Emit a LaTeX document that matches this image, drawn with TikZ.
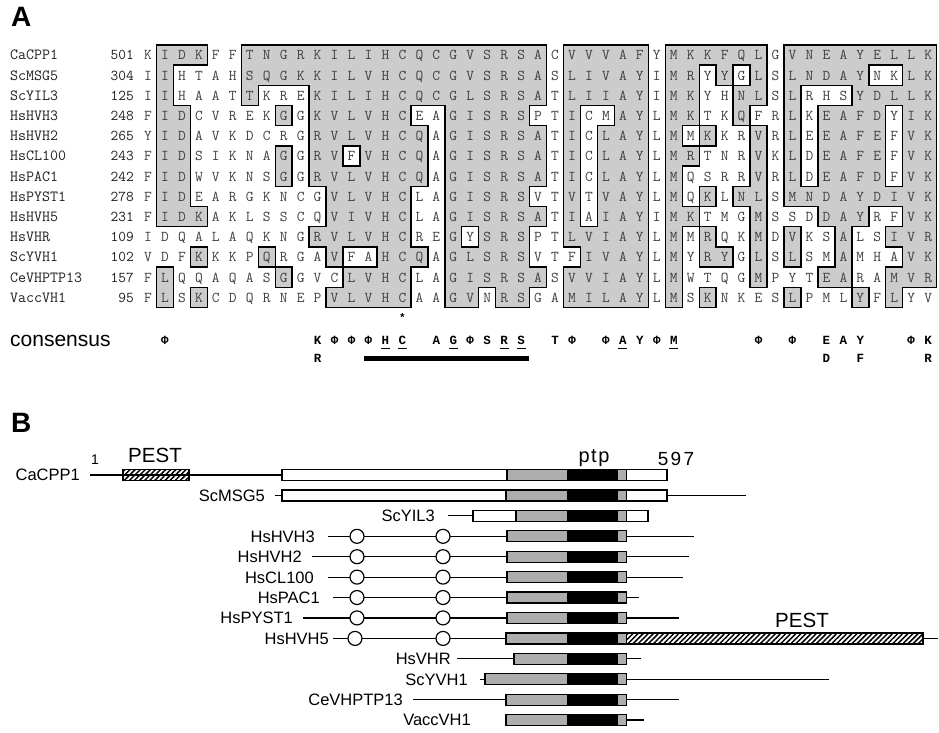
\documentclass[tikz,border=0pt]{standalone}
\usepackage{fontspec}
\setmainfont{Liberation Sans}
\newfontfamily\cmono{Liberation Mono}
\usetikzlibrary{patterns.meta}
\definecolor{shA}{gray}{0.80}
\definecolor{shB}{gray}{0.68}
\definecolor{resc}{gray}{0.25}
\definecolor{namec}{gray}{0.12}

\newcount\seqc
\def\parseshade#1#2{\global\seqc=0 \def\seqrow{#1}\parseshadei#2\relax}
\def\parseshadei#1{\ifx#1\relax\else\global\advance\seqc by 1 \expandafter\xdef\csname S-\seqrow-\the\seqc\endcsname{#1}\expandafter\parseshadei\fi}
\def\placeseq#1#2{\global\seqc=0 \def\seqrow{#1}\placeseqi#2\relax}
\def\placeseqi#1{\ifx#1\relax\else\global\advance\seqc by 1 \node[res,name/.expanded={r\seqrow c\the\seqc}] at ({131.04+\the\seqc*16.96},{39.6+\seqrow*20.2}) {#1};\expandafter\placeseqi\fi}

\newcommand\ptpbox[3]{%
 \fill[shB] (#2,{#1-5.5}) rectangle (567,{#1+5.5});
 \fill[black] (567,{#1-5.5}) rectangle (617,{#1+5.5});
 \fill[shB] (617,{#1-5.5}) rectangle (#3,{#1+5.5});
 \draw[bl] (617,{#1-5.5}) -- (617,{#1+5.5});
 \draw[bl] (#2,{#1-5.5}) rectangle (#3,{#1+5.5});}

\begin{document}
\begin{tikzpicture}[x=1pt,y=-1pt,
  res/.style={font=\ttfamily\fontsize{15}{15}\selectfont, text=resc, anchor=base, inner sep=0pt},
  aname/.style={font=\ttfamily\fontsize{15.5}{15.5}\selectfont, text=namec, anchor=base west, inner sep=0pt},
  anum/.style={font=\ttfamily\fontsize{15}{15}\selectfont, text=namec, anchor=base east, inner sep=0pt},
  cons/.style={font=\cmono\bfseries\fontsize{12.5}{12.5}\selectfont, anchor=base, inner sep=0pt},
  brd/.style={line width=1.4pt, line cap=rect},
  bl/.style={line width=1.2pt},
  blab/.style={font=\fontsize{16.5}{16.5}\selectfont, anchor=base east, inner sep=0pt},
  dot/.style={circle, draw, fill=white, line width=1.2pt, minimum size=14pt, inner sep=0pt},
  hatch/.style={draw, line width=1.2pt, pattern={Lines[angle=45,distance=3.6pt,line width=1.5pt]}},
  panel/.style={font=\bfseries\fontsize{28}{28}\selectfont, anchor=base west, inner sep=0pt},
  big/.style={font=\fontsize{20.5}{20.5}\selectfont, inner sep=0pt}
]
\useasboundingbox (0,0) rectangle (939,732);
\fill[white] (0,0) rectangle (939,732);

\node[panel, name=pA] at (11,26) {A};
\node[panel, name=pB] at (11,432) {B};

% ---------- shading grid ----------
\foreach \ii in {0,...,14}{\foreach \jj in {0,...,48}{\expandafter\xdef\csname S-\ii-\jj\endcsname{0}}}
\parseshade{1}{0111001111 111111111111110 11111 01111110 111111111}
\parseshade{2}{0100001111 111111111111110 11111 01101010 111110011}
\parseshade{3}{0100001000 111111111111110 11111 01100110 100011111}
\parseshade{4}{0110000010 111111001111100 10011 01100100 101111011}
\parseshade{5}{0110000000 111111101111110 10111 01010010 101111011}
\parseshade{6}{0110000010 110111101111110 10111 01100010 101111011}
\parseshade{7}{0110000010 111111101111110 10111 01000010 101111011}
\parseshade{8}{0110000000 011111001111100 10111 01010110 111111111}
\parseshade{9}{0111000000 011111001111110 10111 01100010 001110011}
\parseshade{10}{0000000000 111111001011100 11111 01010010 100100111}
\parseshade{11}{0001000100 010011101111100 01111 01011010 100100011}
\parseshade{12}{0100000010 001111001111110 11111 01000010 001100111}
\parseshade{13}{0101000000 011111001101100 11111 01010000 100010100}

\foreach \ii in {1,...,13}{\foreach \jj in {1,...,47}{%
  \ifnum\csname S-\ii-\jj\endcsname=1 \fill[shA] ({122.56+\jj*16.96},{24.7+\ii*20.2}) rectangle ({139.52+\jj*16.96},{44.9+\ii*20.2});\fi}}

\foreach \ii in {0,...,13}{\foreach \jj in {0,...,47}{%
  \pgfmathtruncatemacro\myjp{\jj+1}\pgfmathtruncatemacro\myip{\ii+1}%
  \ifnum\ii>0 \ifnum\csname S-\ii-\jj\endcsname=\csname S-\ii-\myjp\endcsname\relax\else\draw[brd] ({139.52+\jj*16.96},{24.7+\ii*20.2}) -- ({139.52+\jj*16.96},{44.9+\ii*20.2});\fi\fi
  \ifnum\jj>0 \ifnum\csname S-\ii-\jj\endcsname=\csname S-\myip-\jj\endcsname\relax\else\draw[brd] ({122.56+\jj*16.96},{44.9+\ii*20.2}) -- ({139.52+\jj*16.96},{44.9+\ii*20.2});\fi\fi
}}

% ---------- names, numbers, residues ----------
\foreach \nm/\nb [count=\ii] in {CaCPP1/501,ScMSG5/304,ScYIL3/125,HsHVH3/248,HsHVH2/265,HsCL100/243,HsPAC1/242,HsPYST1/278,HsHVH5/231,HsVHR/109,ScYVH1/102,CeVHPTP13/157,VaccVH1/95}{
  \node[aname, name=an\ii] at (10,{39.6+\ii*20.2}) {\nm};
  \node[anum, name=ann\ii] at (134,{39.6+\ii*20.2}) {\nb};
}
\placeseq{1}{KIDKFFTNGR KILIHCQCGV SRSACVVVAF YMKKFQLGVN EAYELLK}
\placeseq{2}{IIHTAHSQGK KILVHCQCGV SRSASLIVAY IMRYYGLSLN DAYNKLK}
\placeseq{3}{IIHAATTKRE KILIHCQCGL SRSATLIIAY IMKYHNLSLR HSYDLLK}
\placeseq{4}{FIDCVREKGG KVLVHCEAGI SRSPTICMAY LMKTKQFRLK EAFDYIK}
\placeseq{5}{YIDAVKDCRG RVLVHCQAGI SRSATICLAY LMMKKRVRLE EAFEFVK}
\placeseq{6}{FIDSIKNAGG RVFVHCQAGI SRSATICLAY LMRTNRVKLD EAFEFVK}
\placeseq{7}{FIDWVKNSGG RVLVHCQAGI SRSATICLAY LMQSRRVRLD EAFDFVK}
\placeseq{8}{FIDEARGKNC GVLVHCLAGI SRSVTVTVAY LMQKLNLSMN DAYDIVK}
\placeseq{9}{FIDKAKLSSC QVIVHCLAGI SRSATIAIAY IMKTMGMSSD DAYRFVK}
\placeseq{10}{IDQALAQKNG RVLVHCREGY SRSPTLVIAY LMMRQKMDVK SALSIVR}
\placeseq{11}{VDFKKKPQRG AVFAHCQAGL SRSVTFIVAY LMYRYGLSLS MAMHAVK}
\placeseq{12}{FLQQAQASGG VCLVHCLAGI SRSASVVIAY LMWTQGMPYT EARAMVR}
\placeseq{13}{FLSKCDQRNE PVLVHCAAGV NRSGAMILAY LMSKNKESLP MLYFLYV}

% ---------- consensus ----------
\node[font=\cmono\bfseries\fontsize{11}{11}\selectfont, anchor=base, inner sep=0pt, name=ast] at (402.4,321) {*};
\node[font=\fontsize{21}{21}\selectfont, anchor=base west, inner sep=0pt, name=cons] at (10,346) {consensus};
\foreach \jj/\cl in {2/Φ,11/K,12/Φ,13/Φ,14/Φ,15/H,16/C,18/A,19/G,20/Φ,21/S,22/R,23/S,25/T,26/Φ,28/Φ,29/A,30/Y,31/Φ,32/M,37/Φ,39/Φ,41/E,42/A,43/Y,46/Φ,47/K}{
  \node[cons, name=c\jj] at ({131.04+\jj*16.96},344.5) {\cl};}
\foreach \jj/\cl in {11/R,41/D,43/F,47/R}{
  \node[cons, name=cc\jj] at ({131.04+\jj*16.96},362.5) {\cl};}
\foreach \jj in {15,16,19,22,23,29,32}{
  \draw[line width=0.9pt] ({126.54+\jj*16.96},348) -- ({135.54+\jj*16.96},348);}
\fill (364,355.5) rectangle (529,360.5);

% ---------- panel B ----------
% CaCPP1
\node[blab,name=b1] at (80,480.9) {CaCPP1};
\draw[bl] (90,475) -- (282,475);
\draw[hatch] (123,469.5) rectangle (189,480.5);
\draw[bl,fill=white] (282,469.5) rectangle (667,480.5);
\ptpbox{475}{507}{626.5}
\node[font=\fontsize{14}{14}\selectfont, inner sep=0pt, name=one] at (95,460) {1};
\node[big, name=pest1] at (155,455) {PEST};
\node[font=\fontsize{20}{20}\selectfont\addfontfeature{LetterSpace=8}, anchor=base, inner sep=0pt, name=ptp] at (594,462) {ptp};
\node[font=\fontsize{19}{19}\selectfont\addfontfeature{LetterSpace=12}, anchor=base, inner sep=0pt, name=end597] at (676,465) {597};
% ScMSG5
\node[blab,name=b2] at (265,501.3) {ScMSG5};
\draw[bl] (275,495.4) -- (282,495.4) (667,495.4) -- (746,495.4);
\draw[bl,fill=white] (282,489.9) rectangle (667,500.9);
\ptpbox{495.4}{506}{626.5}
% ScYIL3
\node[blab,name=b3] at (435,521.7) {ScYIL3};
\draw[bl] (448,515.8) -- (473,515.8);
\draw[bl,fill=white] (473,510.3) rectangle (648,521.3);
\ptpbox{515.8}{516}{626.5}
% HsHVH3
\node[blab,name=b4] at (315,542.2) {HsHVH3};
\draw[bl] (328,536.3) -- (507,536.3) (626.5,536.3) -- (694,536.3);
\node[dot,name=b4a] at (357,536.3) {};
\node[dot,name=b4b] at (443,536.3) {};
\ptpbox{536.3}{507}{626.5}
% HsHVH2
\node[blab,name=b5] at (302,562.6) {HsHVH2};
\draw[bl] (312,556.7) -- (507,556.7) (626.5,556.7) -- (689,556.7);
\node[dot,name=b5a] at (357,556.7) {};
\node[dot,name=b5b] at (443,556.7) {};
\ptpbox{556.7}{507}{626.5}
% HsCL100
\node[blab,name=b6] at (314,583) {HsCL100};
\draw[bl] (328,577.1) -- (507,577.1) (626.5,577.1) -- (683,577.1);
\node[dot,name=b6a] at (357,577.1) {};
\node[dot,name=b6b] at (443,577.1) {};
\ptpbox{577.1}{507}{626.5}
% HsPAC1
\node[blab,name=b7] at (320,603.4) {HsPAC1};
\draw[bl] (333,597.5) -- (507,597.5) (626.5,597.5) -- (639,597.5);
\node[dot,name=b7a] at (357,597.5) {};
\node[dot,name=b7b] at (443,597.5) {};
\ptpbox{597.5}{507}{626.5}
% HsPYST1
\node[blab,name=b8] at (293,623.8) {HsPYST1};
\draw[bl] (303,617.9) -- (507,617.9) (626.5,617.9) -- (679,617.9);
\node[dot,name=b8a] at (357,617.9) {};
\node[dot,name=b8b] at (443,617.9) {};
\ptpbox{617.9}{507}{626.5}
% HsHVH5
\node[blab,name=b9] at (329,644.3) {HsHVH5};
\draw[bl] (333,638.4) -- (506,638.4) (923,638.4) -- (938,638.4);
\node[dot,name=b9a] at (355,638.4) {};
\node[dot,name=b9b] at (443,638.4) {};
\ptpbox{638.4}{506}{626.5}
\draw[hatch] (626.5,632.9) rectangle (923,643.9);
\node[big, name=pest2] at (802,620) {PEST};
% HsVHR
\node[blab,name=b10] at (451,664.7) {HsVHR};
\draw[bl] (457,658.8) -- (514,658.8) (626.5,658.8) -- (641,658.8);
\ptpbox{658.8}{514}{626.5}
% ScYVH1
\node[blab,name=b11] at (468,685.1) {ScYVH1};
\draw[bl] (480,679.2) -- (485,679.2) (626.5,679.2) -- (829,679.2);
\ptpbox{679.2}{485}{626.5}
% CeVHPTP13
\node[blab,name=b12] at (403,705.5) {CeVHPTP13};
\draw[bl] (413,699.6) -- (506,699.6) (626.5,699.6) -- (679,699.6);
\ptpbox{699.6}{506}{626.5}
% VaccVH1
\node[blab,name=b13] at (471,725.9) {VaccVH1};
\draw[bl] (626.5,720) -- (644,720);
\ptpbox{720}{506}{626.5}
\end{tikzpicture}
\end{document}
